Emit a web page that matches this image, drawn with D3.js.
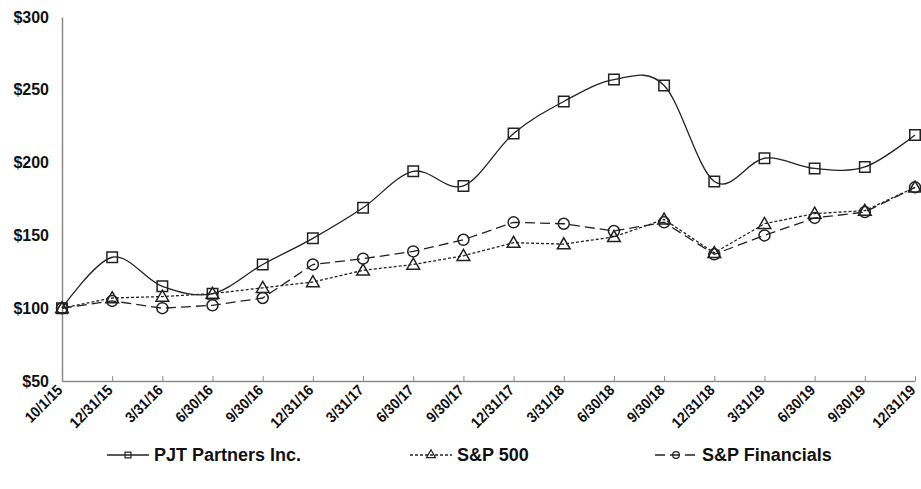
<!DOCTYPE html>
<html>
<head>
<meta charset="utf-8">
<script src="https://cdn.jsdelivr.net/npm/d3@7"></script>
<style>
  body { margin: 0; background: #fff; }
  svg { display: block; font-family: "Liberation Sans", Arial, sans-serif; }
</style>
</head>
<body>
<svg id="chart" width="921" height="489"></svg>
<script>
const dates = ["10/1/15", "12/31/15", "3/31/16", "6/30/16", "9/30/16", "12/31/16", "3/31/17", "6/30/17", "9/30/17",
  "12/31/17", "3/31/18", "6/30/18", "9/30/18", "12/31/18", "3/31/19", "6/30/19", "9/30/19", "12/31/19"];

const pjt = [100, 135, 115, 110, 130, 148, 169, 194, 184, 220, 242, 257, 253, 187, 203, 196, 197, 219];
const sp500 = [100, 107, 108, 110, 114, 118, 126, 130, 136, 145, 144, 149, 161, 138, 158, 165, 167, 183];
const spFin = [100, 105, 100, 102, 107, 130, 134, 139, 147, 159, 158, 153, 159, 137, 150, 162, 166, 183];

const yTicks = [50, 100, 150, 200, 250, 300];
const seriesNames = ["PJT Partners Inc.", "S&P 500", "S&P Financials"];

const svg = d3.select("#chart");
const ink = "#222";
const axisColor = "#8a8a8a";

const x = d3.scalePoint().domain(dates).range([62, 915]);
const y = d3.scaleLinear().domain([50, 300]).range([381, 17]);

// axes
const xAxis = svg.append("g")
  .attr("transform", "translate(0,381)")
  .call(d3.axisBottom(x).tickSize(-5).tickSizeOuter(0).tickFormat(""));
xAxis.select(".domain").attr("stroke", axisColor).attr("stroke-width", 1.5);
xAxis.selectAll(".tick line").attr("stroke", axisColor);

// rotated date labels, squeezed a little to look like the narrow original
xAxis.selectAll(".tick").append("text")
  .attr("fill", "#111")
  .attr("font-size", 15)
  .attr("font-weight", "bold")
  .attr("text-anchor", "end")
  .attr("transform", "translate(1,10) rotate(-45) scale(0.92,1)")
  .text(d => d);

const yAxis = svg.append("g")
  .attr("transform", "translate(62,0)")
  .call(d3.axisLeft(y).tickValues(yTicks).tickSize(0).tickPadding(13).tickFormat(d => "$" + d));
yAxis.select(".domain").attr("stroke", axisColor).attr("stroke-width", 1.5);
yAxis.selectAll(".tick text")
  .attr("fill", "#111")
  .attr("font-size", 16)
  .attr("font-weight", "bold")
  .attr("font-family", "Liberation Sans, Arial, sans-serif");

// series
const series = [
  { name: seriesNames[0], values: pjt, dash: null, curve: d3.curveCardinal.tension(0), marker: "square" },
  { name: seriesNames[1], values: sp500, dash: "3,2", curve: d3.curveLinear, marker: "triangle" },
  { name: seriesNames[2], values: spFin, dash: "10,5", curve: d3.curveLinear, marker: "circle" }
];

const symbolType = { square: d3.symbolSquare, triangle: d3.symbolTriangle, circle: d3.symbolCircle };
const symbolSize = { square: 110, triangle: 70, circle: 95 };

series.forEach(s => {
  const line = d3.line()
    .x((d, i) => x(dates[i]))
    .y(d => y(d))
    .curve(s.curve);

  svg.append("path")
    .datum(s.values)
    .attr("fill", "none")
    .attr("stroke", ink)
    .attr("stroke-width", 1.3)
    .attr("stroke-dasharray", s.dash)
    .attr("d", line);

  svg.append("g").selectAll("path")
    .data(s.values)
    .join("path")
    .attr("transform", (d, i) => `translate(${x(dates[i])},${y(d) + (s.marker === "triangle" ? 1 : 0)})`)
    .attr("d", d3.symbol().type(symbolType[s.marker]).size(symbolSize[s.marker])())
    .attr("fill", "none")
    .attr("stroke", ink)
    .attr("stroke-width", 1.5);
});

// legend
const legendX = [107, 410, 655];
const legend = svg.append("g").attr("transform", "translate(0,455)");
series.forEach((s, i) => {
  const g = legend.append("g").attr("transform", `translate(${legendX[i]},0)`);
  g.append("line")
    .attr("x1", 0).attr("x2", 42)
    .attr("stroke", ink)
    .attr("stroke-width", 1.3)
    .attr("stroke-dasharray", s.dash);
  g.append("path")
    .attr("transform", "translate(21,0)")
    .attr("d", d3.symbol().type(symbolType[s.marker]).size(35)())
    .attr("fill", "none")
    .attr("stroke", ink)
    .attr("stroke-width", 1.2);
  g.append("text")
    .attr("x", 47)
    .attr("dy", "0.35em")
    .attr("font-size", 18)
    .attr("font-weight", "bold")
    .attr("fill", "#111")
    .text(s.name);
});
</script>
</body>
</html>
